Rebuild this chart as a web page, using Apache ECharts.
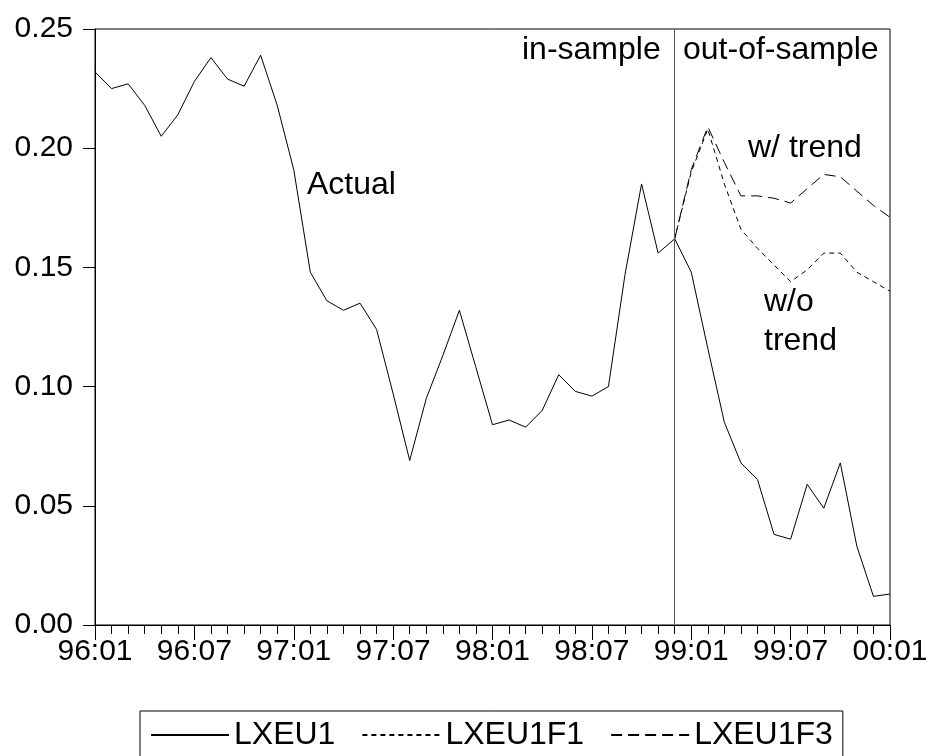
<!DOCTYPE html>
<html>
<head>
<meta charset="utf-8">
<script src="https://cdn.jsdelivr.net/npm/echarts@6/dist/echarts.min.js"></script>
<style>
  html, body { margin: 0; padding: 0; background: #fff; }
  #main { width: 931px; height: 756px; }
</style>
</head>
<body>
<div id="main"></div>
<script>
  // monthly labels 96:01 .. 00:01
  var months = [];
  for (var y = 96; y <= 100; y++) {
    for (var m = 1; m <= 12; m++) {
      if (y === 100 && m > 1) break;
      months.push(String(y % 100).padStart(2, '0') + ':' + String(m).padStart(2, '0'));
    }
  }

  var actual = [
    0.232, 0.225, 0.227, 0.218, 0.205, 0.214, 0.228, 0.238, 0.229, 0.226,
    0.239, 0.218, 0.191, 0.148, 0.136, 0.132, 0.135, 0.124, 0.097, 0.069,
    0.095, 0.113, 0.132, 0.108, 0.084, 0.086, 0.083, 0.090, 0.105, 0.098,
    0.096, 0.100, 0.147, 0.185, 0.156, 0.162, 0.148, 0.116, 0.085, 0.068,
    0.061, 0.038, 0.036, 0.059, 0.049, 0.068, 0.033, 0.012, 0.013
  ];
  // forecasts start at 98:12
  var forecastStart = 35;
  var noTrend = [0.162, 0.190, 0.208, 0.185, 0.166, 0.158, 0.151, 0.144, 0.149, 0.156, 0.156, 0.148, 0.144, 0.140];
  var withTrend = [0.162, 0.191, 0.209, 0.194, 0.180, 0.180, 0.179, 0.177, 0.183, 0.189, 0.188, 0.182, 0.176, 0.171];

  var yTicks = [0, 0.05, 0.10, 0.15, 0.20, 0.25];

  function padForecast(arr) {
    var out = [];
    for (var i = 0; i < forecastStart; i++) out.push(null);
    return out.concat(arr);
  }

  var font = "'Liberation Sans', Arial, sans-serif";
  var noteFont = '32px ' + font;

  var chart = echarts.init(document.getElementById('main'));
  var option = {
    backgroundColor: '#fff',
    animation: false,
    grid: {
      left: 95, right: 41, top: 29, bottom: 131,
      show: true, borderColor: '#000', borderWidth: 1
    },
    legend: {
      left: 140, top: 711,
      padding: [8, 10, 8, 10],
      borderColor: '#000', borderWidth: 1,
      itemWidth: 78, itemHeight: 2, itemGap: 26,
      itemStyle: { opacity: 0 },
      textStyle: { color: '#000', fontFamily: font, fontSize: 32 },
      data: ['LXEU1', 'LXEU1F1', 'LXEU1F3']
    },
    xAxis: [
      {
        type: 'category', data: months, boundaryGap: false,
        axisLine: { lineStyle: { color: '#000' } },
        axisTick: { interval: 5, length: 15, lineStyle: { color: '#000' } },
        axisLabel: { interval: 5, margin: 12, color: '#000', fontFamily: font, fontSize: 30 },
        splitLine: { show: false }
      },
      {
        type: 'category', data: months, boundaryGap: false, position: 'bottom',
        axisLine: { show: false },
        axisTick: { interval: 0, length: 9, lineStyle: { color: '#000' } },
        axisLabel: { show: false },
        splitLine: { show: false }
      }
    ],
    yAxis: {
      type: 'value', min: yTicks[0], max: yTicks[yTicks.length - 1], interval: 0.05,
      axisLine: { show: true, lineStyle: { color: '#000' } },
      axisTick: { show: true, length: 12, lineStyle: { color: '#000' } },
      axisLabel: { margin: 22, color: '#000', fontFamily: font, fontSize: 30,
        formatter: function (v) { return v.toFixed(2); } },
      splitLine: { show: false }
    },
    series: [
      {
        name: 'LXEU1', type: 'line', data: actual, symbol: 'none',
        lineStyle: { color: '#000', width: 1 }, itemStyle: { color: '#000' },
        markLine: {
          silent: true, symbol: 'none', label: { show: false },
          lineStyle: { color: '#555', width: 1, type: 'solid' },
          data: [{ xAxis: forecastStart }]
        }
      },
      {
        name: 'LXEU1F1', type: 'line', data: padForecast(noTrend), symbol: 'none',
        lineStyle: { color: '#000', width: 1, type: [5, 4] }, itemStyle: { color: '#000' }
      },
      {
        name: 'LXEU1F3', type: 'line', data: padForecast(withTrend), symbol: 'none',
        lineStyle: { color: '#000', width: 1, type: [11, 6] }, itemStyle: { color: '#000' }
      }
    ],
    graphic: [
      { type: 'text', left: 522, top: 34, style: { text: 'in-sample', fill: '#000', font: noteFont } },
      { type: 'text', left: 683, top: 34, style: { text: 'out-of-sample', fill: '#000', font: noteFont } },
      { type: 'text', left: 307, top: 169, style: { text: 'Actual', fill: '#000', font: noteFont } },
      { type: 'text', left: 748, top: 132, style: { text: 'w/ trend', fill: '#000', font: noteFont } },
      { type: 'text', left: 764, top: 286, style: { text: 'w/o', fill: '#000', font: noteFont } },
      { type: 'text', left: 764, top: 325, style: { text: 'trend', fill: '#000', font: noteFont } }
    ]
  };
  chart.setOption(option);
</script>
</body>
</html>
